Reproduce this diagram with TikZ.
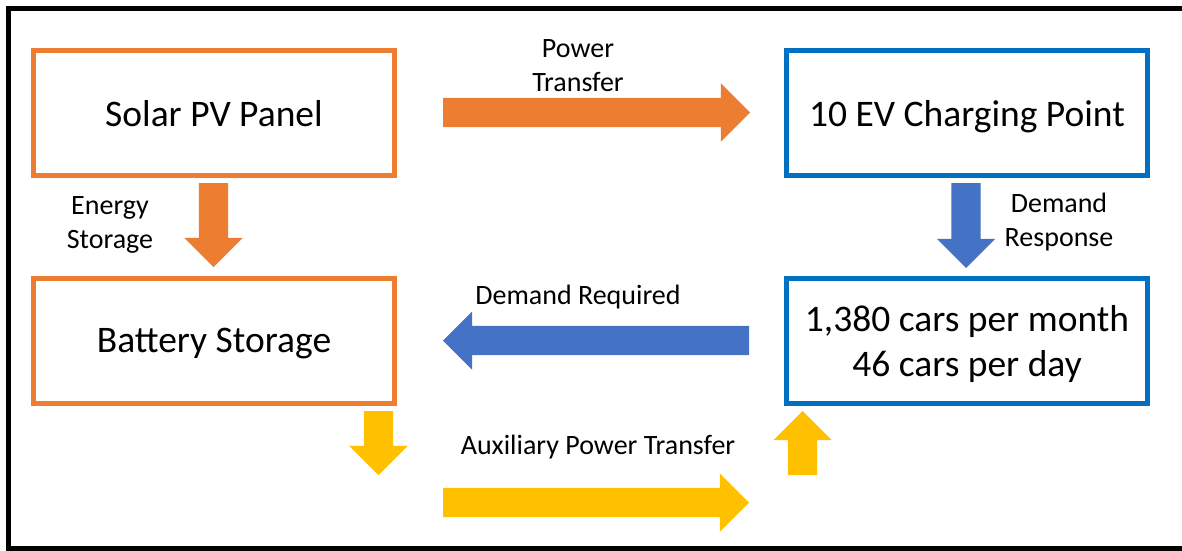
\documentclass[tikz,border=0pt]{standalone}
\usepackage{fontspec}
\setmainfont{Carlito}
\usetikzlibrary{shapes.arrows}
\definecolor{pvorange}{HTML}{ED7D31}
\definecolor{evblue}{HTML}{0070C0}
\definecolor{flowblue}{HTML}{4472C4}
\definecolor{auxyellow}{HTML}{FFC000}
\tikzset{
	unitbox/.style={draw=#1, line width=5pt, fill=white, minimum width=361pt, minimum height=125pt, inner sep=0pt, text depth=0pt, align=center, font=\fontsize{37.5}{45}\selectfont},
	flowarrow/.style={single arrow, fill=#1, draw=none, inner sep=0pt, outer sep=0pt, anchor=tail, single arrow head extend=14.5pt, single arrow head indent=0pt},
	hflow/.style={flowarrow=#1, inner ysep=14.5pt},
	vflow/.style={flowarrow=#1, inner xsep=14.5pt},
	flowlabel/.style={align=center, inner sep=0pt, font=\fontsize{28}{34}\selectfont}
}
\begin{document}
\begin{tikzpicture}[x=1pt,y=-1pt]
			\useasboundingbox (0,0) rectangle (1182,550);
			\draw[line width=5pt] (1182,8) -- (8.5,8) -- (8.5,548) -- (1182,548);
			% units
			\node[unitbox=pvorange] (solar) at (214,113) {Solar PV Panel};
			\node[unitbox=evblue] (charger) at (967,113) {10 EV Charging Point};
			\node[unitbox=pvorange] (battery) at (214,340.5) {Battery Storage};
			\node[unitbox=evblue] (cars) at (967,340.5) {1,380 cars per month\\46 cars per day};
			% flows
			\node[hflow=pvorange, minimum height=307pt] (powerflow) at (443,112.5) {};
			\node[vflow=pvorange, minimum height=84pt, shape border rotate=270] (storeflow) at (213.5,183) {};
			\node[vflow=flowblue, minimum height=85pt, shape border rotate=270] (responseflow) at (966,183) {};
			\node[hflow=flowblue, minimum height=306pt, shape border rotate=180] (requiredflow) at (749,340.5) {};
			\node[vflow=auxyellow, minimum height=64pt, shape border rotate=270] (auxdown) at (378.5,411) {};
			\node[hflow=auxyellow, minimum height=306pt] (auxflow) at (443,502.5) {};
			\node[vflow=auxyellow, minimum height=64pt, shape border rotate=90] (auxup) at (802.5,475) {};
			% labels
			\node[flowlabel] (powerlbl) at (578,66) {Power\\Transfer};
			\node[flowlabel] (storelbl) at (110,225) {Energy\\Storage};
			\node[flowlabel] (responselbl) at (1059,222) {Demand\\Response};
			\node[flowlabel] (requiredlbl) at (578,297) {Demand Required};
			\node[flowlabel] (auxlbl) at (598,447) {Auxiliary Power Transfer};
\end{tikzpicture}
\end{document}
